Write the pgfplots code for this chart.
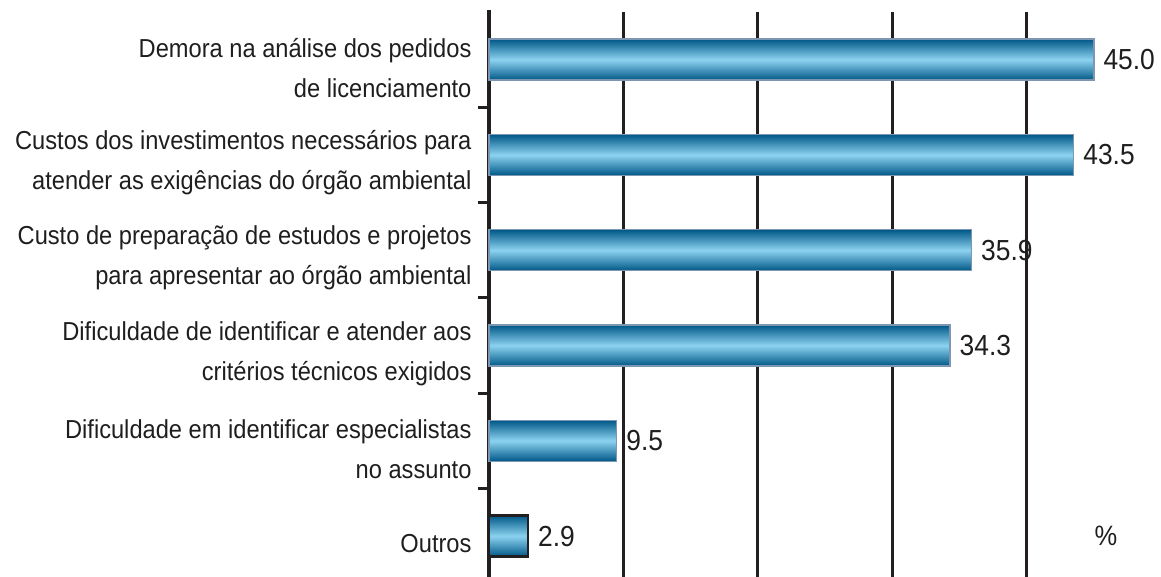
\documentclass[border=0pt]{standalone}
\usepackage{fontspec}
\setmainfont{Liberation Sans}[FakeStretch=0.91]
\usepackage{pgfplots}
\pgfplotsset{compat=1.18}
\definecolor{barDark}{RGB}{0,88,135}
\definecolor{barLight}{RGB}{140,210,240}
\definecolor{barEdge}{RGB}{125,150,178}
\definecolor{lineC}{RGB}{35,31,32}
\definecolor{txt}{RGB}{30,30,30}
\begin{document}
\begin{tikzpicture}
\useasboundingbox (-489pt,0pt) rectangle (672pt,577pt);
\begin{axis}[
  at={(0pt,0pt)}, anchor=south west,
  width=672pt, height=565pt, scale only axis,
  xmin=0, xmax=50,
  ymin=-0.5, ymax=5.43, y dir=reverse,
  axis lines*=left,
  x axis line style={draw=none},
  y axis line style={line width=3.3pt, color=lineC, shorten <=-1.65pt},
  xtick={10,20,30,40}, xticklabels={},
  xtick style={draw=none},
  xmajorgrids,
  grid style={line width=3.3pt, color=lineC},
  ytick={0,1,2,3,4,5},
  yticklabels={
    {Demora na análise dos pedidos\\de licenciamento},
    {Custos dos investimentos necessários para\\atender as exigências do órgão ambiental},
    {Custo de preparação de estudos e projetos\\para apresentar ao órgão ambiental},
    {Dificuldade de identificar e atender aos\\critérios técnicos exigidos},
    {Dificuldade em identificar especialistas\\no assunto},
    {Outros}},
  major tick length=0pt,
  tick align=outside,
  ytick style={line width=3pt, color=lineC},
  yticklabel style={font=\fontsize{26}{40}\selectfont, align=right, text=txt, yshift=-8pt, xshift=-14pt},
  extra y ticks={0.5,1.5,2.5,3.5,4.5},
  extra y tick labels={},
  extra y tick style={grid=none, major tick length=11pt},
  xbar, bar width=41pt, bar shift=0pt,
  point meta=x,
  nodes near coords={\pgfmathprintnumber[fixed,fixed zerofill,precision=1,assume math mode=true]{\pgfplotspointmeta}},
  nodes near coords style={anchor=west, inner sep=0pt, xshift=9pt, font=\fontsize{29}{29}\selectfont, text=txt},
  clip=false,
]
\addplot[draw=barEdge, line width=1.5pt, top color=barDark, bottom color=barDark, middle color=barLight] coordinates {(45.0,0)};
\addplot[draw=barEdge, line width=1.5pt, top color=barDark, bottom color=barDark, middle color=barLight] coordinates {(43.5,1)};
\addplot[draw=barEdge, line width=1.5pt, top color=barDark, bottom color=barDark, middle color=barLight] coordinates {(35.9,2)};
\addplot[draw=barEdge, line width=1.5pt, top color=barDark, bottom color=barDark, middle color=barLight] coordinates {(34.3,3)};
\addplot[draw=barEdge, line width=1.5pt, top color=barDark, bottom color=barDark, middle color=barLight] coordinates {(9.5,4)};
\addplot[draw=lineC, line width=2.5pt, top color=barDark, bottom color=barDark, middle color=barLight] coordinates {(2.9,5)};
\node[font=\fontsize{28}{28}\selectfont, text=txt] at (axis cs:45.9,5) {\%};
\end{axis}
\end{tikzpicture}
\end{document}
